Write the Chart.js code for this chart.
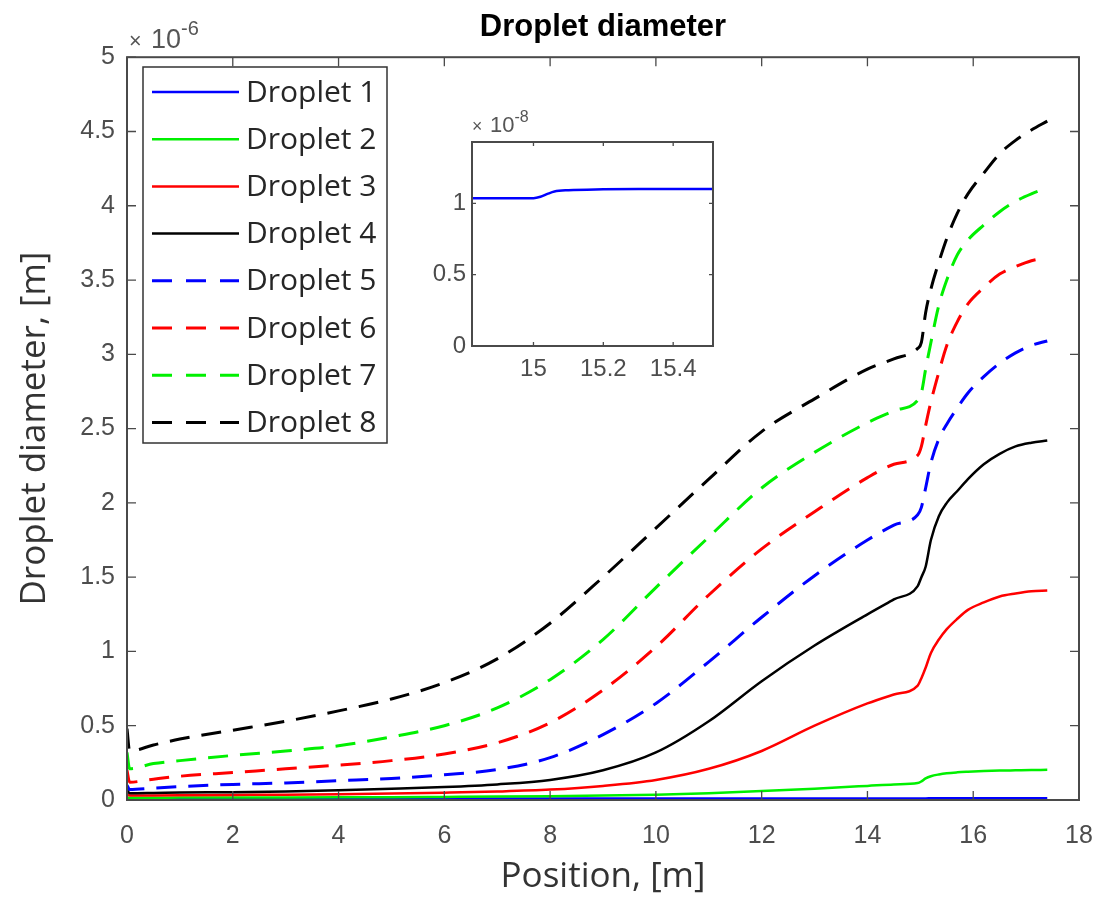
<!DOCTYPE html>
<html>
<head>
<meta charset="utf-8">
<script src="https://cdn.jsdelivr.net/npm/chart.js@4.4.1/dist/chart.umd.min.js"></script>
<style>
  body { margin: 0; background: #fff; }
  #wrap { position: relative; width: 1101px; height: 899px; }
  #main { position: absolute; left: 0; top: 0; }
  #inset { position: absolute; left: 400px; top: 90px; }
</style>
</head>
<body>
<div id="wrap">
  <canvas id="main" width="1101" height="899"></canvas>
  <canvas id="inset" width="330" height="300"></canvas>
</div>
<script>
// positions along the duct, [m]
var positions = [0, 0.05, 0.5, 1, 2, 3, 4, 5, 6, 7, 8, 9, 10, 11, 12, 13, 14, 14.5, 14.95,
  15.02, 15.1, 15.2, 15.35, 15.5, 15.7, 15.9, 16.2, 16.5, 16.8, 17.1, 17.4];

// droplet diameters, in units of 1e-6 m
var droplet2 = [0.018, 0.015, 0.015, 0.016, 0.016, 0.017, 0.018, 0.019, 0.021, 0.023, 0.026, 0.03, 0.036, 0.046, 0.06, 0.076, 0.095, 0.105, 0.114,
  0.125, 0.145, 0.16, 0.172, 0.18, 0.186, 0.19, 0.195, 0.198, 0.2, 0.202, 0.203];
var droplet3 = [0.045, 0.03, 0.031, 0.032, 0.034, 0.036, 0.039, 0.043, 0.049, 0.057, 0.07, 0.095, 0.135, 0.21, 0.33, 0.5, 0.65, 0.71, 0.77,
  0.82, 0.89, 0.99, 1.08, 1.15, 1.22, 1.28, 1.33, 1.37, 1.39, 1.405, 1.41];
var droplet4 = [0.07, 0.045, 0.047, 0.05, 0.053, 0.058, 0.065, 0.075, 0.087, 0.105, 0.135, 0.2, 0.32, 0.53, 0.8, 1.04, 1.25, 1.35, 1.44,
  1.5, 1.57, 1.75, 1.91, 2.0, 2.08, 2.16, 2.26, 2.33, 2.38, 2.405, 2.42];
var droplet5 = [0.1, 0.07, 0.08, 0.09, 0.105, 0.115, 0.13, 0.145, 0.17, 0.205, 0.285, 0.44, 0.65, 0.93, 1.23, 1.51, 1.75, 1.85, 1.92,
  1.97, 2.1, 2.27, 2.43, 2.53, 2.64, 2.74, 2.85, 2.94, 3.01, 3.06, 3.09];
var droplet6 = [0.2, 0.12, 0.14, 0.16, 0.185, 0.21, 0.235, 0.265, 0.31, 0.385, 0.52, 0.74, 1.03, 1.38, 1.69, 1.94, 2.17, 2.26, 2.32,
  2.38, 2.52, 2.68, 2.88, 3.06, 3.22, 3.34, 3.45, 3.54, 3.59, 3.63, 3.65];
var droplet7 = [0.32, 0.21, 0.245, 0.265, 0.3, 0.33, 0.365, 0.425, 0.5, 0.62, 0.81, 1.08, 1.43, 1.77, 2.1, 2.34, 2.54, 2.62, 2.69,
  2.74, 2.9, 3.08, 3.33, 3.5, 3.67, 3.77, 3.87, 3.96, 4.03, 4.08, 4.12];
var droplet8 = [0.48, 0.33, 0.37, 0.41, 0.47, 0.53, 0.6, 0.68, 0.79, 0.95, 1.19, 1.5, 1.83, 2.16, 2.48, 2.7, 2.9, 2.97, 3.04,
  3.08, 3.28, 3.44, 3.62, 3.78, 3.95, 4.08, 4.22, 4.35, 4.44, 4.51, 4.57];

// droplet 1 is tiny, in units of 1e-8 m (shown zoomed in the inset)
var d1Positions = [0, 5, 10, 14, 14.83, 14.9, 15.0, 15.02, 15.04, 15.06, 15.1, 15.2, 15.3, 15.51, 16, 17.4];
var droplet1 = [1.03, 1.03, 1.032, 1.034, 1.035, 1.035, 1.036, 1.046, 1.066, 1.083, 1.092, 1.098, 1.1, 1.1, 1.1, 1.1];

var seriesNames = ['Droplet 1', 'Droplet 2', 'Droplet 3', 'Droplet 4', 'Droplet 5', 'Droplet 6', 'Droplet 7', 'Droplet 8'];
var xTicks = [0, 2, 4, 6, 8, 10, 12, 14, 16, 18];
var yTicks = [0, 0.5, 1, 1.5, 2, 2.5, 3, 3.5, 4, 4.5, 5];
var insetXTicks = [15, 15.2, 15.4];
var insetYTicks = [0, 0.5, 1];

var colors = ['#0000ff', '#00f000', '#ff0000', '#000000', '#0000ff', '#ff0000', '#00f000', '#000000'];
var dashed = [false, false, false, false, true, true, true, true];

function toPoints(xs, ys, factor) {
  return ys.map(function (v, i) { return { x: xs[i], y: v * factor }; });
}
function plainLabel(v) { return String(v); }

var allSeries = [
  toPoints(d1Positions, droplet1, 0.01),
  toPoints(positions, droplet2, 1),
  toPoints(positions, droplet3, 1),
  toPoints(positions, droplet4, 1),
  toPoints(positions, droplet5, 1),
  toPoints(positions, droplet6, 1),
  toPoints(positions, droplet7, 1),
  toPoints(positions, droplet8, 1)
];

var datasets = allSeries.map(function (pts, i) {
  return {
    label: seriesNames[i],
    data: pts,
    borderColor: colors[i],
    backgroundColor: colors[i],
    borderWidth: dashed[i] ? 3 : 2.5,
    borderDash: dashed[i] ? [20, 12] : [],
    pointRadius: 0,
    cubicInterpolationMode: 'monotone',
    fill: false
  };
}).reverse();

// axes box with inward tick marks on all four sides
var framePlugin = {
  id: 'frame',
  afterDatasetsDraw: function (chart, args, opts) {
    var ctx = chart.ctx, a = chart.chartArea;
    var xs = chart.scales.x, ys = chart.scales.y;
    ctx.save();
    ctx.strokeStyle = opts.color;
    ctx.lineWidth = opts.width;
    ctx.strokeRect(a.left, a.top, a.right - a.left, a.bottom - a.top);
    ctx.lineWidth = 1.3;
    ctx.beginPath();
    xs.ticks.forEach(function (t) {
      var px = xs.getPixelForValue(t.value);
      ctx.moveTo(px, a.bottom); ctx.lineTo(px, a.bottom - opts.tick);
      ctx.moveTo(px, a.top); ctx.lineTo(px, a.top + opts.tick);
    });
    ys.ticks.forEach(function (t) {
      var py = ys.getPixelForValue(t.value);
      ctx.moveTo(a.left, py); ctx.lineTo(a.left + opts.tick, py);
      ctx.moveTo(a.right, py); ctx.lineTo(a.right - opts.tick, py);
    });
    ctx.stroke();
    // exponent label
    var e = opts.exp;
    ctx.fillStyle = '#555';
    ctx.textBaseline = 'alphabetic';
    ctx.font = e.size1 * 0.8 + 'px "Liberation Sans"';
    ctx.fillText('\u00d7', a.left + e.dx, a.top - e.dy);
    ctx.font = e.size1 + 'px "Liberation Sans"';
    ctx.fillText('10', a.left + e.dx + e.gap, a.top - e.dy);
    var w2 = ctx.measureText('10').width;
    ctx.font = e.size2 + 'px "Liberation Sans"';
    ctx.fillText(e.power, a.left + e.dx + e.gap + w2, a.top - e.dy - e.rise);
    ctx.restore();
  }
};

// boxed legend inside the axes, top left
var boxLegend = {
  id: 'boxLegend',
  afterDraw: function (chart, args, opts) {
    var ctx = chart.ctx;
    ctx.save();
    ctx.fillStyle = '#fff';
    ctx.fillRect(opts.x, opts.y, opts.w, opts.h);
    ctx.strokeStyle = '#333';
    ctx.lineWidth = 1.5;
    ctx.strokeRect(opts.x, opts.y, opts.w, opts.h);
    ctx.font = opts.font;
    ctx.textBaseline = 'middle';
    seriesNames.forEach(function (name, i) {
      var y = opts.y + opts.first + i * opts.step;
      ctx.beginPath();
      ctx.strokeStyle = colors[i];
      ctx.lineWidth = dashed[i] ? 3 : 2.5;
      ctx.setLineDash(dashed[i] ? [20, 14] : []);
      ctx.moveTo(opts.x + 9, y);
      ctx.lineTo(opts.x + 96, y);
      ctx.stroke();
      ctx.setLineDash([]);
      ctx.fillStyle = '#262626';
      ctx.fillText(name, opts.x + 103, y + 1);
    });
    ctx.restore();
  }
};

new Chart(document.getElementById('main'), {
  type: 'line',
  data: { datasets: datasets },
  plugins: [framePlugin, boxLegend],
  options: {
    responsive: false,
    animation: false,
    devicePixelRatio: 1,
    layout: { padding: { left: 0, right: 22, top: 0, bottom: 0 } },
    plugins: {
      legend: { display: false },
      tooltip: { enabled: false },
      title: {
        display: true,
        text: 'Droplet diameter',
        fullSize: false,
        color: '#000',
        font: { family: '"Liberation Sans", Arial, sans-serif', size: 31, weight: 'bold' },
        padding: { top: 9, bottom: 11 }
      },
      frame: { color: '#4a4a4a', width: 2, tick: 9,
        exp: { dx: 2, dy: 9, gap: 22, size1: 27, size2: 20, rise: 13, power: '-6' } },
      boxLegend: { x: 143, y: 67, w: 244, h: 376, first: 25, step: 47.2,
        font: '30px "Open Sans", sans-serif' }
    },
    scales: {
      x: {
        type: 'linear',
        min: 0, max: 18,
        afterBuildTicks: function (s) { s.ticks = xTicks.map(function (v) { return { value: v }; }); },
        afterFit: function (s) { s.height = 99; s.paddingLeft = 0; s.paddingRight = 0; },
        grid: { display: false, drawTicks: false },
        border: { display: false },
        ticks: { color: '#4d4d4d', padding: 21, maxRotation: 0, callback: plainLabel,
          font: { family: '"Liberation Sans", Arial, sans-serif', size: 25 } },
        title: { display: true, text: 'Position, [m]', color: '#333',
          font: { family: '"Open Sans", sans-serif', size: 35 },
          padding: { top: 0, bottom: 1 } }
      },
      y: {
        type: 'linear',
        min: 0, max: 5,
        afterBuildTicks: function (s) { s.ticks = yTicks.map(function (v) { return { value: v }; }); },
        afterFit: function (s) { s.width = 127; },
        grid: { display: false, drawTicks: false },
        border: { display: false },
        ticks: { color: '#4d4d4d', padding: 12, callback: plainLabel,
          font: { family: '"Liberation Sans", Arial, sans-serif', size: 25 } },
        title: { display: true, text: 'Droplet diameter, [m]', color: '#333',
          font: { family: '"Open Sans", sans-serif', size: 35 },
          padding: { top: 14, bottom: 0 } }
      }
    }
  }
});

// inset: droplet 1 around the step at 15 m
var insetBg = {
  id: 'insetBg',
  beforeDraw: function (chart) {
    var a = chart.chartArea, ctx = chart.ctx;
    ctx.save();
    ctx.fillStyle = '#fff';
    ctx.fillRect(a.left, a.top, a.right - a.left, a.bottom - a.top);
    ctx.restore();
  }
};

new Chart(document.getElementById('inset'), {
  type: 'line',
  data: {
    datasets: [{
      label: seriesNames[0],
      data: toPoints(d1Positions, droplet1, 1),
      borderColor: colors[0],
      borderWidth: 2.5,
      pointRadius: 0,
      cubicInterpolationMode: 'monotone',
      fill: false
    }]
  },
  plugins: [insetBg, framePlugin],
  options: {
    responsive: false,
    animation: false,
    devicePixelRatio: 1,
    layout: { padding: { left: 0, right: 17, top: 52, bottom: 0 } },
    plugins: {
      legend: { display: false },
      tooltip: { enabled: false },
      frame: { color: '#4a4a4a', width: 2, tick: 4,
        exp: { dx: 0, dy: 10, gap: 18, size1: 22, size2: 16, rise: 10, power: '-8' } }
    },
    scales: {
      x: {
        type: 'linear',
        min: 14.824, max: 15.514,
        afterBuildTicks: function (s) { s.ticks = insetXTicks.map(function (v) { return { value: v }; }); },
        afterFit: function (s) { s.height = 44; s.paddingLeft = 0; s.paddingRight = 0; },
        grid: { display: false, drawTicks: false },
        border: { display: false },
        ticks: { color: '#4d4d4d', padding: 9, maxRotation: 0, callback: plainLabel,
          font: { family: '"Liberation Sans", Arial, sans-serif', size: 24 } }
      },
      y: {
        type: 'linear',
        min: 0, max: 1.43,
        afterBuildTicks: function (s) { s.ticks = insetYTicks.map(function (v) { return { value: v }; }); },
        afterFit: function (s) { s.width = 72; },
        grid: { display: false, drawTicks: false },
        border: { display: false },
        ticks: { color: '#4d4d4d', padding: 6, callback: plainLabel,
          font: { family: '"Liberation Sans", Arial, sans-serif', size: 24 } }
      }
    }
  }
});
</script>
</body>
</html>
